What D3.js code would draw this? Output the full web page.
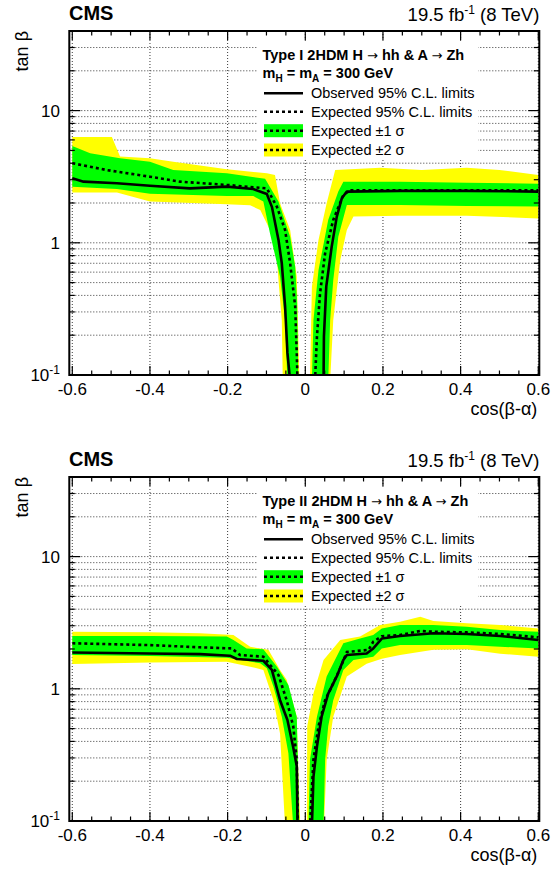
<!DOCTYPE html>
<html><head><meta charset="utf-8">
<script src="https://cdn.jsdelivr.net/npm/d3@7"></script>
<style>
body{margin:0;background:#fff}
text{font-family:"Liberation Sans",Arial,Helvetica,sans-serif;fill:#000}
</style>
</head><body>
<svg id="c" width="551" height="869"></svg>
<script>
// ---------- axis ticks / labels ----------
const xTicks = [-0.6,-0.4,-0.2,0,0.2,0.4,0.6];
const xTickLabels = ["-0.6","-0.4","-0.2","0","0.2","0.4","0.6"];
const yDecades = [0.1,1,10];
const yDecadeLabels = [["10","-1"],["1",""],["10",""]];
const xDomain = [-0.6077,0.6026];
const yDomain = [0.1,40];
const panelTitles = ["Type I 2HDM H \u2192 hh & A \u2192 Zh","Type II 2HDM H \u2192 hh & A \u2192 Zh"];
const legendLabels = ["Observed 95% C.L. limits","Expected 95% C.L. limits","Expected \u00b11 \u03c3","Expected \u00b12 \u03c3"];

// ---------- Type I data [cos(b-a), tan b] ----------
const t1ObsL = [[-0.60,3.08],[-0.571,2.90],[-0.485,2.82],[-0.40,2.70],[-0.297,2.58],[-0.202,2.66],[-0.134,2.55],[-0.099,2.34],[-0.086,1.87],[-0.069,1.05],[-0.0605,0.70],[-0.052,0.33],[-0.046,0.147],[-0.039,0.09]];
const t1ExpL = [[-0.60,4.0],[-0.511,3.55],[-0.40,3.16],[-0.322,2.90],[-0.202,2.74],[-0.099,2.58],[-0.073,1.87],[-0.052,1.25],[-0.039,0.70],[-0.026,0.33],[-0.022,0.147],[-0.020,0.09]];
const t1G1L_hi = [[-0.60,5.4],[-0.554,4.75],[-0.477,4.36],[-0.40,4.10],[-0.340,3.56],[-0.202,3.36],[-0.1035,3.05],[-0.069,2.05],[-0.039,1.11],[-0.026,0.66],[-0.021,0.35],[-0.018,0.09]];
const t1G1L_lo = [[-0.60,2.66],[-0.485,2.55],[-0.40,2.35],[-0.202,2.26],[-0.134,2.26],[-0.108,2.05],[-0.091,1.18],[-0.065,0.555],[-0.052,0.26],[-0.046,0.09]];
const t1G2L_hi = [[-0.60,6.3],[-0.498,6.3],[-0.477,4.5],[-0.40,4.36],[-0.340,4.10],[-0.202,3.60],[-0.099,3.36],[-0.078,3.26],[-0.065,1.99],[-0.039,1.25],[-0.022,0.555],[-0.015,0.09]];
const t1G2L_lo = [[-0.60,2.40],[-0.485,2.40],[-0.40,2.05],[-0.202,1.96],[-0.142,1.92],[-0.116,1.77],[-0.091,1.25],[-0.073,0.74],[-0.069,0.52],[-0.0605,0.26],[-0.058,0.09]];
const t1ObsR = [[0.047,0.09],[0.048,0.195],[0.054,0.466],[0.068,0.935],[0.081,1.57],[0.094,2.17],[0.107,2.44],[0.244,2.47],[0.416,2.47],[0.60,2.44]];
const t1ExpR = [[0.025,0.09],[0.030,0.195],[0.038,0.415],[0.051,0.83],[0.072,1.49],[0.098,2.30],[0.115,2.49],[0.244,2.50],[0.60,2.49]];
const t1G1R_hi = [[0.017,0.09],[0.021,0.26],[0.034,0.62],[0.059,1.49],[0.085,2.44],[0.098,2.90],[0.244,2.90],[0.416,2.85],[0.60,2.80]];
const t1G1R_lo = [[0.059,0.09],[0.064,0.26],[0.072,0.52],[0.085,1.11],[0.107,1.93],[0.244,1.93],[0.416,1.90],[0.60,1.88]];
const t1G2R_hi = [[0.012,0.09],[0.017,0.466],[0.034,1.05],[0.055,1.99],[0.077,3.56],[0.193,3.70],[0.30,3.56],[0.416,3.70],[0.50,3.56],[0.60,3.26]];
const t1G2R_lo = [[0.064,0.09],[0.072,0.26],[0.090,0.74],[0.107,1.25],[0.124,1.58],[0.244,1.60],[0.416,1.60],[0.60,1.53]];

// ---------- Type II data ----------
const t2ObsL = [[-0.60,1.88],[-0.40,1.85],[-0.271,1.83],[-0.194,1.78],[-0.176,1.68],[-0.108,1.63],[-0.086,1.39],[-0.065,0.82],[-0.046,0.58],[-0.031,0.36],[-0.022,0.26],[-0.020,0.09]];
const t2ExpL = [[-0.60,2.21],[-0.40,2.14],[-0.271,2.06],[-0.189,2.02],[-0.168,1.80],[-0.108,1.75],[-0.069,1.27],[-0.048,0.82],[-0.031,0.52],[-0.022,0.29],[-0.019,0.09]];
const t2G1L_hi = [[-0.60,2.51],[-0.40,2.51],[-0.202,2.49],[-0.185,2.34],[-0.151,2.02],[-0.108,1.99],[-0.073,1.47],[-0.0435,1.07],[-0.022,0.615],[-0.015,0.09]];
const t2G1L_lo = [[-0.60,1.80],[-0.40,1.77],[-0.202,1.72],[-0.116,1.56],[-0.099,1.43],[-0.082,1.04],[-0.0605,0.615],[-0.0435,0.325],[-0.031,0.09]];
const t2G2L_hi = [[-0.60,2.70],[-0.40,2.68],[-0.271,2.63],[-0.185,2.55],[-0.142,2.08],[-0.095,1.97],[-0.065,1.39],[-0.048,1.17],[-0.022,0.615],[-0.018,0.24],[-0.013,0.09]];
const t2G2L_lo = [[-0.60,1.54],[-0.40,1.58],[-0.202,1.60],[-0.142,1.47],[-0.108,1.39],[-0.082,0.82],[-0.065,0.46],[-0.052,0.09]];
const t2ObsR = [[0.017,0.09],[0.021,0.216],[0.030,0.365],[0.042,0.615],[0.059,0.92],[0.081,1.24],[0.098,1.65],[0.107,1.80],[0.158,1.85],[0.175,2.02],[0.197,2.40],[0.244,2.51],[0.330,2.63],[0.416,2.60],[0.502,2.51],[0.60,2.34]];
const t2ExpR = [[0.012,0.09],[0.021,0.29],[0.034,0.52],[0.051,0.82],[0.072,1.10],[0.090,1.43],[0.107,1.90],[0.163,1.97],[0.175,2.27],[0.197,2.50],[0.244,2.55],[0.296,2.74],[0.330,2.70],[0.416,2.67],[0.502,2.60],[0.60,2.45]];
const t2G1R_hi = [[0.008,0.09],[0.012,0.29],[0.030,0.615],[0.055,1.24],[0.098,2.21],[0.141,2.40],[0.175,2.55],[0.197,2.86],[0.244,3.04],[0.330,3.04],[0.416,2.95],[0.502,2.78],[0.60,2.70]];
const t2G1R_lo = [[0.047,0.09],[0.051,0.29],[0.059,0.52],[0.072,0.82],[0.098,1.39],[0.124,1.65],[0.175,1.75],[0.197,2.02],[0.244,2.14],[0.416,2.14],[0.502,2.08],[0.60,2.02]];
const t2G2R_hi = [[0.004,0.09],[0.005,0.52],[0.021,0.92],[0.047,1.65],[0.090,2.34],[0.141,2.49],[0.193,3.04],[0.244,3.22],[0.296,3.51],[0.330,3.26],[0.416,3.13],[0.502,3.04],[0.60,2.86]];
const t2G2R_lo = [[0.048,0.09],[0.055,0.29],[0.072,0.615],[0.107,1.24],[0.158,1.55],[0.197,1.69],[0.244,1.80],[0.330,1.97],[0.416,1.99],[0.502,1.84],[0.60,1.75]];

const panels = [
  {title:panelTitles[0], oy:0, obs:[t1ObsL,t1ObsR], exp:[t1ExpL,t1ExpR],
   g1:[[t1G1L_hi,t1G1L_lo],[t1G1R_hi,t1G1R_lo]], g2:[[t1G2L_hi,t1G2L_lo],[t1G2R_hi,t1G2R_lo]]},
  {title:panelTitles[1], oy:446, obs:[t2ObsL,t2ObsR], exp:[t2ExpL,t2ExpR],
   g1:[[t2G1L_hi,t2G1L_lo],[t2G1R_hi,t2G1R_lo]], g2:[[t2G2L_hi,t2G2L_lo],[t2G2R_hi,t2G2R_lo]]}
];

const YELLOW = "#ffff00", GREEN = "#00ff00";
const svg = d3.select("#c");
const L = 69.3, R = 539.3, T = 31, B = 375;

panels.forEach((p, pi) => {
  const oy = p.oy;
  const g = svg.append("g");
  const x = d3.scaleLinear().domain(xDomain).range([L, R]);
  const y = d3.scaleLog().domain(yDomain).range([B + oy, T + oy]);
  const clipId = "clip" + pi;
  g.append("clipPath").attr("id", clipId).append("rect")
    .attr("x", L).attr("y", T + oy).attr("width", R - L).attr("height", B - T);

  // grid
  const yAll = y.ticks();
  const grid = g.append("g").attr("stroke", "#222").attr("stroke-width", 0.9).attr("stroke-dasharray", "1,2");
  yAll.filter(v => v > yDomain[0] * 1.001 && v < yDomain[1] * 0.999).forEach(v => {
    grid.append("line").attr("x1", L).attr("x2", R).attr("y1", y(v)).attr("y2", y(v));
  });
  xTicks.forEach(v => {
    grid.append("line").attr("x1", x(v)).attr("x2", x(v)).attr("y1", T + oy).attr("y2", B + oy);
  });

  // bands & lines
  const line = d3.line().x(d => x(d[0])).y(d => y(d[1]));
  const data = g.append("g").attr("clip-path", `url(#${clipId})`);
  p.g2.forEach(([hi, lo]) => data.append("path").attr("d", line(hi.concat(lo.slice().reverse())) + "Z").attr("fill", YELLOW));
  p.g1.forEach(([hi, lo]) => data.append("path").attr("d", line(hi.concat(lo.slice().reverse())) + "Z").attr("fill", GREEN));
  p.exp.forEach(s => data.append("path").attr("d", line(s)).attr("fill", "none").attr("stroke", "#000")
    .attr("stroke-width", 2.6).attr("stroke-dasharray", "3,3"));
  p.obs.forEach(s => data.append("path").attr("d", line(s)).attr("fill", "none").attr("stroke", "#000")
    .attr("stroke-width", 2.6).attr("stroke-linejoin", "round"));

  // legend
  const lg = g.append("g");
  lg.append("rect").attr("x", 258).attr("y", 41 + oy).attr("width", 220).attr("height", 119).attr("fill", "#fff");
  const tt = lg.append("text").attr("x", 262.5).attr("y", 55 + oy).attr("dy", "0.35em")
    .attr("font-size", 14.5).attr("font-weight", "bold");
  p.title.split("\u2192").forEach((part, k) => {
    if (k > 0) tt.append("tspan").attr("font-family", "DejaVu Sans").attr("font-weight", "normal")
      .attr("font-size", 13).text("\u2192");
    tt.append("tspan").text(part);
  });
  const mt = lg.append("text").attr("x", 262.5).attr("y", 73 + oy).attr("dy", "0.35em")
    .attr("font-size", 14.5).attr("font-weight", "bold");
  mt.append("tspan").text("m");
  mt.append("tspan").attr("font-size", 10).attr("dy", 4).text("H");
  mt.append("tspan").attr("dy", -4).text(" = m");
  mt.append("tspan").attr("font-size", 10).attr("dy", 4).text("A");
  mt.append("tspan").attr("dy", -4).text(" = 300 GeV");
  const rows = [93.3, 111.7, 130.7, 150];
  rows.forEach((ry, i) => {
    const cy = ry + oy;
    if (i === 2 || i === 3) {
      lg.append("rect").attr("x", 264).attr("y", cy - 6.5).attr("width", 39).attr("height", 13)
        .attr("fill", i === 2 ? GREEN : YELLOW);
    }
    const s = lg.append("line").attr("x1", 264).attr("x2", 303).attr("y1", cy).attr("y2", cy)
      .attr("stroke", "#000").attr("stroke-width", 2.6);
    if (i > 0) s.attr("stroke-dasharray", "3,3");
    lg.append("text").attr("x", 311).attr("y", cy).attr("dy", "0.35em").attr("font-size", 14.5).text(legendLabels[i]);
  });

  // frame
  g.append("rect").attr("x", L).attr("y", T + oy).attr("width", R - L).attr("height", B - T)
    .attr("fill", "none").attr("stroke", "#000").attr("stroke-width", 2);

  // ticks
  const tk = g.append("g").attr("stroke", "#000").attr("stroke-width", 1.2);
  d3.range(-12, 13).map(k => k * 0.05).forEach(v => {
    const major = Math.abs(v / 0.2 - Math.round(v / 0.2)) < 1e-6;
    const len = major ? 9 : 4.5;
    tk.append("line").attr("x1", x(v)).attr("x2", x(v)).attr("y1", B + oy).attr("y2", B + oy - len);
    tk.append("line").attr("x1", x(v)).attr("x2", x(v)).attr("y1", T + oy).attr("y2", T + oy + len);
  });
  yAll.forEach(v => {
    const major = yDecades.some(d => Math.abs(d - v) < 1e-9);
    const len = major ? 11 : 5.5;
    tk.append("line").attr("x1", L).attr("x2", L + len).attr("y1", y(v)).attr("y2", y(v));
    tk.append("line").attr("x1", R).attr("x2", R - len).attr("y1", y(v)).attr("y2", y(v));
  });

  // tick labels
  xTicks.forEach((v, i) => {
    g.append("text").attr("x", x(v)).attr("y", 395 + oy).attr("text-anchor", "middle")
      .attr("font-size", 17).text(xTickLabels[i]);
  });
  yDecades.forEach((v, i) => {
    const t = g.append("text").attr("x", 60).attr("y", y(v)).attr("dy", "0.35em")
      .attr("text-anchor", "end").attr("font-size", 17);
    t.append("tspan").text(yDecadeLabels[i][0]);
    if (yDecadeLabels[i][1]) t.append("tspan").attr("font-size", 12).attr("dy", -7).text(yDecadeLabels[i][1]);
  });

  // axis titles
  g.append("text").attr("x", R - 2).attr("y", 415 + oy).attr("text-anchor", "end").attr("font-size", 18).text("cos(\u03b2-\u03b1)");
  g.append("text").attr("transform", `translate(28,${T + oy}) rotate(-90)`).attr("text-anchor", "end")
    .attr("font-size", 18).text("tan \u03b2");

  // header
  g.append("text").attr("x", 69).attr("y", 20 + oy).attr("font-size", 20).attr("font-weight", "bold").text("CMS");
  const lum = g.append("text").attr("x", R).attr("y", 21 + oy).attr("text-anchor", "end").attr("font-size", 18.5);
  lum.append("tspan").text("19.5 fb");
  lum.append("tspan").attr("font-size", 12).attr("dy", -7).text("-1");
  lum.append("tspan").attr("dy", 7).text(" (8 TeV)");
});
</script>
</body></html>
